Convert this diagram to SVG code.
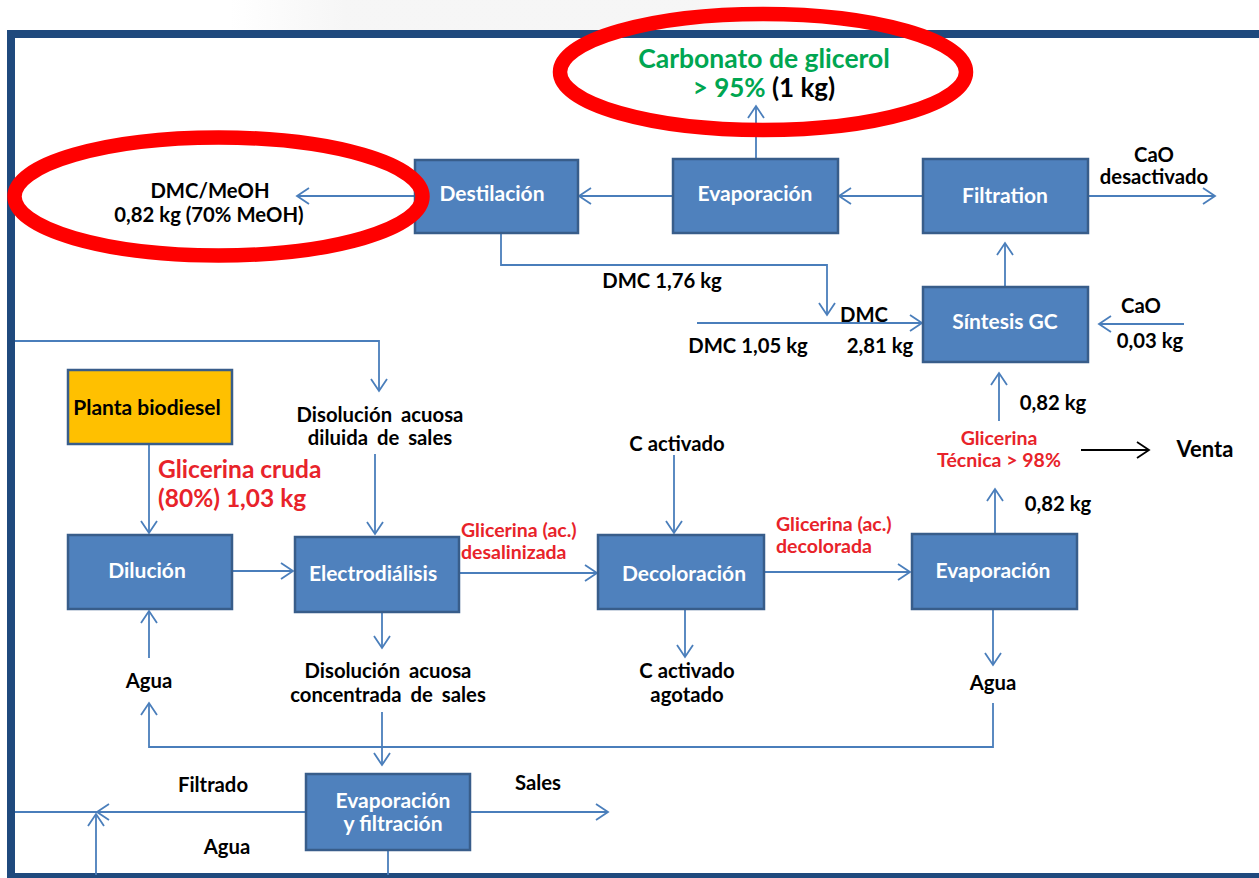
<svg xmlns="http://www.w3.org/2000/svg" width="1259" height="878" viewBox="0 0 1259 878">
<style>
text{font-family:Lato,"Open Sans","Liberation Sans",sans-serif;font-weight:bold;}
.box{fill:#4F81BD;stroke:#385D8A;stroke-width:2.5;}
.bl{fill:#FFFFFF;font-size:21px;text-anchor:middle;}
.lb{fill:#000000;font-size:20.3px;text-anchor:middle;}
.red{fill:#E8232A;font-size:19.5px;}
.con{fill:none;stroke:#4A7EBB;stroke-width:1.8;}
.arr{marker-end:url(#ah);}
.ring{fill:none;stroke:#FF0000;stroke-width:14.5;}
</style>
<defs>
<marker id="ah" markerUnits="userSpaceOnUse" markerWidth="16" markerHeight="18" refX="13" refY="9" orient="auto">
<path d="M1,1 L13,9 L1,17" fill="none" stroke="#4A7EBB" stroke-width="1.8"/>
</marker>
<marker id="ahk" markerUnits="userSpaceOnUse" markerWidth="16" markerHeight="18" refX="13" refY="9" orient="auto">
<path d="M1,1 L13,9 L1,17" fill="none" stroke="#000000" stroke-width="1.8"/>
</marker>
<linearGradient id="faint" x1="0" y1="0" x2="1" y2="0">
<stop offset="0" stop-color="#F2F2F2" stop-opacity="0"/>
<stop offset="0.2" stop-color="#F2F2F2" stop-opacity="1"/>
<stop offset="0.8" stop-color="#F2F2F2" stop-opacity="1"/>
<stop offset="1" stop-color="#F2F2F2" stop-opacity="0"/>
</linearGradient>
</defs>
<rect x="0" y="0" width="1259" height="878" fill="#FFFFFF"/>
<rect x="230" y="0" width="580" height="30" fill="url(#faint)" opacity="0.7"/>
<g id="frame" fill="#1F497D">
<rect x="8" y="30" width="1251" height="8"/>
<rect x="7" y="30" width="8" height="848"/>
<rect x="7" y="873" width="1252" height="5"/>
</g>
<g id="connectors">
<line class="con arr" x1="415" y1="196" x2="297" y2="196"/>
<line class="con arr" x1="673" y1="196" x2="579" y2="196"/>
<line class="con arr" x1="923" y1="196" x2="839" y2="196"/>
<line class="con arr" x1="1088" y1="196" x2="1215" y2="196"/>
<line class="con arr" x1="756" y1="159" x2="756" y2="106"/>
<line class="con arr" x1="1005" y1="287" x2="1005" y2="243"/>
<polyline class="con arr" points="501,233 501,265 827,265 827,315"/>
<line class="con arr" x1="697" y1="323" x2="922" y2="323"/>
<line class="con arr" x1="1184" y1="324" x2="1099" y2="324"/>
<polyline class="con arr" points="15,341 379,341 379,391"/>
<line class="con arr" x1="375" y1="454" x2="375" y2="534"/>
<line class="con arr" x1="149" y1="444" x2="149" y2="533"/>
<line class="con arr" x1="232" y1="571" x2="293" y2="571"/>
<line class="con arr" x1="459" y1="573" x2="597" y2="573"/>
<line class="con arr" x1="382" y1="612" x2="382" y2="648"/>
<line class="con arr" x1="382" y1="712" x2="382" y2="765"/>
<polyline class="con arr" points="993,703 993,747 149,747 149,703"/>
<line class="con arr" x1="149" y1="658" x2="149" y2="611"/>
<line class="con arr" x1="993" y1="609" x2="993" y2="665"/>
<line class="con arr" x1="674" y1="455" x2="674" y2="533"/>
<line class="con arr" x1="685" y1="609" x2="685" y2="657"/>
<line class="con arr" x1="765" y1="572" x2="910" y2="572"/>
<line class="con arr" x1="995" y1="534" x2="995" y2="489"/>
<line class="con arr" x1="999" y1="421" x2="999" y2="373"/>
<line x1="1081" y1="450" x2="1149" y2="450" stroke="#000000" stroke-width="1.8" marker-end="url(#ahk)"/>
<line class="con arr" x1="306" y1="812" x2="97" y2="812"/>
<line class="con" x1="15" y1="812" x2="97" y2="812"/>
<line class="con arr" x1="96" y1="875" x2="96" y2="814"/>
<line class="con" x1="388" y1="850" x2="388" y2="875"/>
<line class="con arr" x1="470" y1="812" x2="608" y2="812"/>
</g>
<g id="n-destilacion"><rect class="box" x="415" y="160" width="163" height="73"/><text class="bl" x="492" y="201">Destilación</text></g>
<g id="n-evaporacion-top"><rect class="box" x="673" y="159" width="165" height="74"/><text class="bl" x="755" y="201">Evaporación</text></g>
<g id="n-filtration"><rect class="box" x="923" y="159" width="165" height="74"/><text class="bl" x="1005" y="203">Filtration</text></g>
<g id="n-sintesis"><rect class="box" x="923" y="287" width="165" height="75"/><text class="bl" x="1005" y="329">Síntesis GC</text></g>
<g id="n-planta"><rect x="68" y="370" width="164" height="74" fill="#FFC000" stroke="#385D8A" stroke-width="2.5"/><text class="lb" x="147" y="415" style="font-size:21px">Planta biodiesel</text></g>
<g id="n-dilucion"><rect class="box" x="68" y="535" width="164" height="74"/><text class="bl" x="147" y="578">Dilución</text></g>
<g id="n-electro"><rect class="box" x="295" y="537" width="164" height="75"/><text class="bl" x="373" y="581">Electrodiálisis</text></g>
<g id="n-decoloracion"><rect class="box" x="598" y="535" width="166" height="74"/><text class="bl" x="684" y="581">Decoloración</text></g>
<g id="n-evaporacion-br"><rect class="box" x="912" y="534" width="165" height="75"/><text class="bl" x="993" y="578">Evaporación</text></g>
<g id="n-evap-filtr"><rect class="box" x="306" y="774" width="164" height="76"/><text class="bl" x="393" y="808">Evaporación</text><text class="bl" x="393" y="831">y filtración</text></g>
<g id="labels">
<text x="764" y="68" style="font-size:26.5px" fill="#00A651" text-anchor="middle">Carbonato de glicerol</text>
<text x="764" y="97" style="font-size:26px" text-anchor="middle"><tspan fill="#00A651">&gt; 95% </tspan><tspan fill="#000000">(1 kg)</tspan></text>
<text class="lb" x="210" y="198">DMC/MeOH</text>
<text class="lb" x="209" y="222">0,82 kg (70% MeOH)</text>
<text class="lb" x="1154" y="162">CaO</text>
<text class="lb" x="1154" y="184">desactivado</text>
<text class="lb" x="662" y="288">DMC 1,76 kg</text>
<text class="lb" x="864" y="322">DMC</text>
<text class="lb" x="748" y="353">DMC 1,05 kg</text>
<text class="lb" x="880" y="353">2,81 kg</text>
<text class="lb" x="1141" y="313">CaO</text>
<text class="lb" x="1150" y="348">0,03 kg</text>
<text class="lb" x="1053" y="410">0,82 kg</text>
<text class="red" x="999" y="445" text-anchor="middle">Glicerina</text>
<text class="red" x="999" y="467" text-anchor="middle">Técnica &gt; 98%</text>
<text class="lb" x="1205" y="457" style="font-size:22px">Venta</text>
<text class="lb" x="1058" y="511">0,82 kg</text>
<text class="lb" x="380" y="422" word-spacing="4">Disolución acuosa</text>
<text class="lb" x="380" y="445" word-spacing="4">diluida de sales</text>
<text class="red" x="158" y="478" style="font-size:24.5px">Glicerina cruda</text>
<text class="red" x="158" y="507" style="font-size:24.5px">(80%) 1,03 kg</text>
<text class="red" x="461" y="537">Glicerina (ac.)</text>
<text class="red" x="461" y="559">desalinizada</text>
<text class="lb" x="677" y="451">C activado</text>
<text class="red" x="776" y="531">Glicerina (ac.)</text>
<text class="red" x="776" y="553">decolorada</text>
<text class="lb" x="149" y="688">Agua</text>
<text class="lb" x="388" y="678" word-spacing="4">Disolución acuosa</text>
<text class="lb" x="388" y="702" word-spacing="4">concentrada de sales</text>
<text class="lb" x="687" y="678">C activado</text>
<text class="lb" x="687" y="702">agotado</text>
<text class="lb" x="993" y="690">Agua</text>
<text class="lb" x="213" y="792">Filtrado</text>
<text class="lb" x="538" y="790">Sales</text>
<text class="lb" x="227" y="854">Agua</text>
</g>
<g id="highlights">
<ellipse class="ring" cx="763" cy="72" rx="203" ry="58"/>
<ellipse class="ring" cx="218.5" cy="196.5" rx="204" ry="59"/>
</g>
</svg>
